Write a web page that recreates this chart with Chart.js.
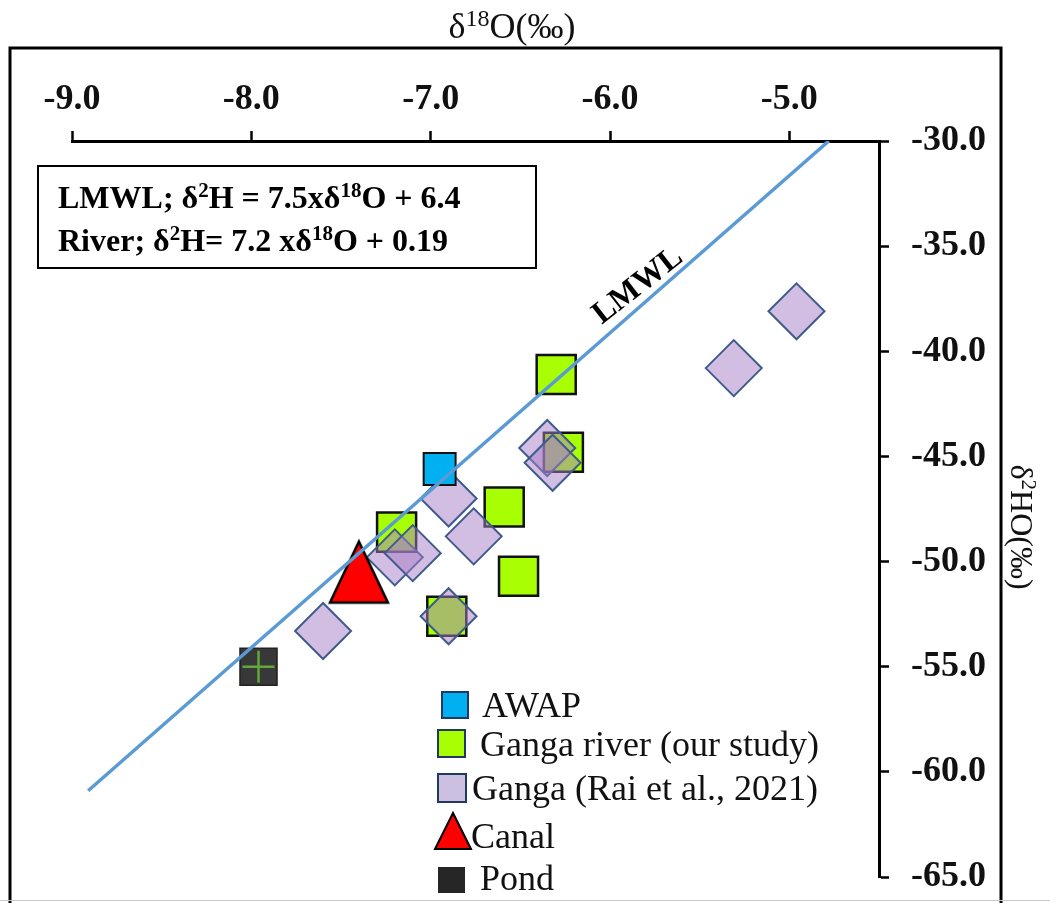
<!DOCTYPE html>
<html>
<head>
<meta charset="utf-8">
<script src="https://cdn.jsdelivr.net/npm/chart.js@4.4.0/dist/chart.umd.min.js"></script>
<style>
  html, body { margin: 0; padding: 0; background: #fff; }
</style>
</head>
<body>
<canvas id="myChart" width="1050" height="903"></canvas>
<script>
// axis ticks
var xTicks = [-9, -8, -7, -6, -5];
var yTicks = [-30, -35, -40, -45, -50, -55, -60, -65];

// series (d18O, d2H)
var awapX = [-6.95];
var awapY = [-45.6];
var gangaX = [-6.30, -6.26, -6.59, -7.19, -6.51, -6.91];
var gangaY = [-41.1, -44.8, -47.4, -48.6, -50.7, -52.6];
var raiX = [-6.90, -6.76, -7.20, -7.10, -7.60, -6.90, -6.35, -6.32, -4.96, -5.31];
var raiY = [-47.0, -48.8, -49.8, -49.6, -53.3, -52.6, -44.6, -45.3, -38.1, -40.8];
var canalX = [-7.40];
var canalY = [-50.5];
var pondX = [-7.96];
var pondY = [-55.0];
var lmwlX = [-8.91, -4.78];
var lmwlY = [-60.9, -30.0];

var serif = "'Liberation Serif', 'Times New Roman', serif";

function pts(xs, ys) {
    return xs.map(function(x, i) { return {x: x, y: ys[i]}; });
}

// red triangle marker for the canal sample
function triangleImage(w, h, m) {
    var c = document.createElement('canvas');
    c.width = w + 2 * m; c.height = h + 2 * m;
    var g = c.getContext('2d');
    g.beginPath();
    g.moveTo(c.width / 2, m);
    g.lineTo(m + w, m + h);
    g.lineTo(m, m + h);
    g.closePath();
    g.fillStyle = '#FF0000';
    g.fill();
    g.lineWidth = 2.5;
    g.strokeStyle = '#000';
    g.stroke();
    return c;
}

// text with superscripts: parts = [[text, isSup], ...]
function richText(ctx, parts, x, y, size, weight, align) {
    var supSize = Math.round(size * 0.66);
    var widths = parts.map(function(p) {
        ctx.font = weight + ' ' + (p[1] ? supSize : size) + 'px ' + serif;
        return ctx.measureText(p[0]).width;
    });
    var total = widths.reduce(function(a, b) { return a + b; }, 0);
    var cx = align === 'center' ? x - total / 2 : x;
    ctx.textAlign = 'left';
    ctx.textBaseline = 'alphabetic';
    parts.forEach(function(p, i) {
        ctx.font = weight + ' ' + (p[1] ? supSize : size) + 'px ' + serif;
        ctx.fillText(p[0], cx, p[1] ? y - size * 0.34 : y);
        cx += widths[i];
    });
}

var decor = {
    id: 'decor',
    beforeDraw: function(chart) {
        var ctx = chart.ctx;
        ctx.save();
        ctx.fillStyle = '#fff';
        ctx.fillRect(0, 0, chart.width, chart.height);
        ctx.restore();
    },
    afterDraw: function(chart) {
        var ctx = chart.ctx;
        ctx.save();
        ctx.fillStyle = '#000';
        ctx.strokeStyle = '#000';

        // outer frame
        ctx.lineWidth = 3;
        ctx.strokeRect(10, 48, 991, 880);
        ctx.strokeStyle = '#c8c8c8';
        ctx.lineWidth = 1;
        ctx.beginPath(); ctx.moveTo(0, 900.5); ctx.lineTo(1050, 900.5); ctx.stroke();

        // axis titles
        ctx.fillStyle = '#111';
        richText(ctx, [['\u03B4', 0], ['18', 1], ['O(\u2030)', 0]], 512, 38, 36, 'normal', 'center');
        ctx.save();
        ctx.translate(1011, 527);
        ctx.rotate(Math.PI / 2);
        richText(ctx, [['\u03B4', 0], ['2', 1], ['HO(\u2030)', 0]], 0, 0, 32, 'normal', 'center');
        ctx.restore();

        // equation box
        ctx.strokeStyle = '#000';
        ctx.lineWidth = 2;
        ctx.strokeRect(38, 166, 498, 102);
        ctx.fillStyle = '#000';
        richText(ctx, [['LMWL; \u03B4', 0], ['2', 1], ['H = 7.5x\u03B4', 0], ['18', 1], ['O + 6.4', 0]], 58, 208, 32, 'bold', 'left');
        richText(ctx, [['River; \u03B4', 0], ['2', 1], ['H= 7.2 x\u03B4', 0], ['18', 1], ['O + 0.19', 0]], 58, 251, 32, 'bold', 'left');

        // LMWL label along the line
        ctx.save();
        ctx.translate(638, 286);
        ctx.rotate(-38 * Math.PI / 180);
        ctx.font = 'bold 32px ' + serif;
        ctx.textAlign = 'center';
        ctx.textBaseline = 'middle';
        ctx.fillText('LMWL', 0, 0);
        ctx.restore();

        // legend
        var ds = chart.data.datasets;
        ctx.lineWidth = 2;
        ctx.strokeStyle = '#1F3864';
        ctx.fillStyle = '#00B0F0';
        ctx.fillRect(442, 692, 26, 26); ctx.strokeRect(442, 692, 26, 26);
        ctx.fillStyle = '#A8FF04';
        ctx.fillRect(438, 730, 27, 27); ctx.strokeRect(438, 730, 27, 27);
        ctx.fillStyle = '#CDBFE0';
        ctx.fillRect(438, 774, 28, 28); ctx.strokeRect(438, 774, 28, 28);
        ctx.beginPath();
        ctx.moveTo(453, 813); ctx.lineTo(471, 849); ctx.lineTo(435, 849); ctx.closePath();
        ctx.fillStyle = '#FF0000'; ctx.fill();
        ctx.strokeStyle = '#000'; ctx.stroke();
        ctx.fillStyle = '#262626';
        ctx.fillRect(438, 867, 27, 26);

        ctx.fillStyle = '#111';
        ctx.font = '36px ' + serif;
        ctx.textAlign = 'left';
        ctx.textBaseline = 'alphabetic';
        ctx.fillText(ds[0].label, 482, 717);
        ctx.fillText(ds[1].label, 480, 756);
        ctx.fillText(ds[2].label, 472, 800);
        ctx.fillText(ds[3].label, 471, 848);
        ctx.fillText(ds[4].label, 480, 890);
        ctx.restore();
    }
};

var ctx = document.getElementById('myChart').getContext('2d');
var chart = new Chart(ctx, {
    type: 'scatter',
    data: {
        datasets: [
            {
                label: 'AWAP',
                data: pts(awapX, awapY),
                pointStyle: 'rect',
                pointRadius: 22.6,
                backgroundColor: '#00B0F0',
                borderColor: '#111',
                borderWidth: 2,
                order: 4
            },
            {
                label: 'Ganga river (our study)',
                data: pts(gangaX, gangaY),
                pointStyle: 'rect',
                pointRadius: 27.6,
                backgroundColor: '#A8FF04',
                borderColor: '#111',
                borderWidth: 2.5,
                order: 6
            },
            {
                label: 'Ganga (Rai et al., 2021)',
                data: pts(raiX, raiY),
                pointStyle: 'rectRot',
                pointRadius: 28,
                backgroundColor: 'rgba(165, 125, 200, 0.5)',
                borderColor: '#3F5B8C',
                borderWidth: 2,
                order: 5
            },
            {
                label: 'Canal',
                data: pts(canalX, canalY),
                pointStyle: triangleImage(58, 61, 6),
                pointRadius: 30,
                backgroundColor: '#FF0000',
                borderColor: '#000',
                order: 3
            },
            {
                label: 'Pond',
                data: pts(pondX, pondY),
                pointStyle: 'rect',
                pointRadius: 26.2,
                backgroundColor: '#383838',
                borderColor: '#222',
                borderWidth: 1.5,
                order: 2
            },
            {
                label: 'Pond cross',
                data: pts(pondX, pondY),
                pointStyle: 'cross',
                pointRadius: 16,
                borderColor: '#5FA83A',
                borderWidth: 2.5,
                order: 1
            },
            {
                label: 'LMWL',
                data: pts(lmwlX, lmwlY),
                showLine: true,
                pointRadius: 0,
                borderColor: '#5B9BD5',
                borderWidth: 3.5,
                order: 0
            }
        ]
    },
    options: {
        responsive: false,
        animation: false,
        devicePixelRatio: 1,
        layout: { autoPadding: false, padding: { left: 72, right: 0, top: 0, bottom: 26 } },
        plugins: {
            legend: { display: false },
            tooltip: { enabled: false }
        },
        scales: {
            x: {
                type: 'linear',
                position: 'top',
                min: -9,
                max: -4.5,
                afterBuildTicks: function(s) { s.ticks = xTicks.map(function(v) { return {value: v}; }); },
                afterFit: function(s) { s.height = 141; },
                grid: { drawOnChartArea: false, tickLength: 10, tickWidth: 2.5, tickColor: '#000' },
                border: { display: true, color: '#000', width: 3 },
                ticks: {
                    color: '#111',
                    padding: 10,
                    maxRotation: 0,
                    font: { family: serif, size: 36, weight: 'bold' },
                    callback: function(v) { return v.toFixed(1); }
                }
            },
            y: {
                type: 'linear',
                position: 'right',
                min: -65,
                max: -30,
                afterBuildTicks: function(s) { s.ticks = yTicks.map(function(v) { return {value: v}; }); },
                afterFit: function(s) { s.width = 171; s.paddingTop = 0; s.paddingBottom = 0; },
                grid: { drawOnChartArea: false, tickLength: 10, tickWidth: 2.5, tickColor: '#000' },
                border: { display: true, color: '#000', width: 3 },
                ticks: {
                    color: '#111',
                    padding: 22,
                    font: { family: serif, size: 36, weight: 'bold' },
                    callback: function(v) { return v.toFixed(1); }
                }
            }
        }
    },
    plugins: [decor]
});
</script>
</body>
</html>
